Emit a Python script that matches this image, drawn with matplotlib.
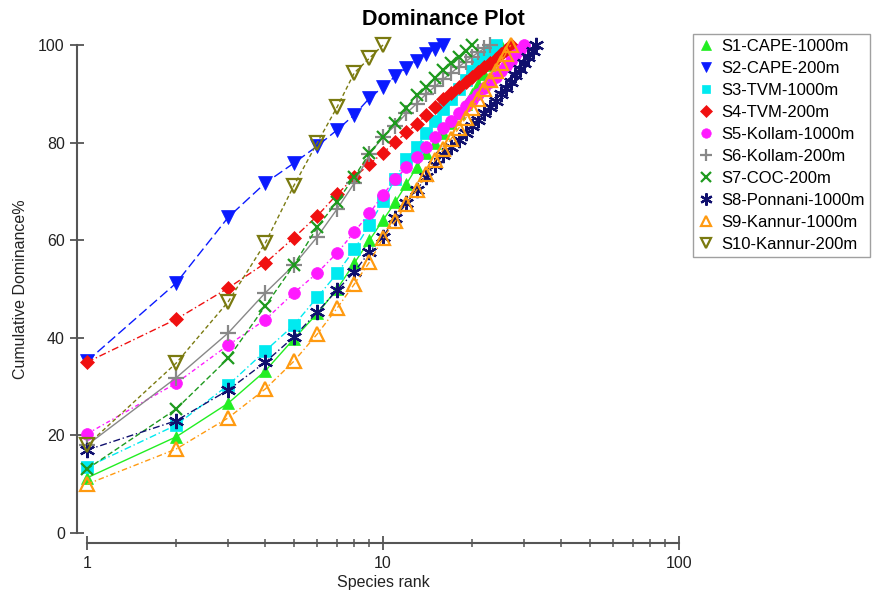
import matplotlib
matplotlib.use("Agg")
import matplotlib.pyplot as plt

plt.rcParams['font.family'] = ['Liberation Sans', 'DejaVu Sans']

# Cumulative dominance (%) for each sample, by species rank
s1 = [11.3, 19.7, 26.6, 33.2, 39.8, 45.0, 50.0, 55.3, 60.0, 64.1, 67.8, 71.5, 75.0, 77.9,
      80.0, 82.0, 84.0, 86.0, 88.0, 90.0, 92.0, 94.0, 96.0, 98.0, 100.0]
s2 = [35.2, 51.2, 64.7, 71.7, 75.8, 79.3, 82.6, 85.7, 89.1, 91.4, 93.6, 95.3, 96.7, 98.2,
      99.2, 100.0]
s3 = [13.5, 22.1, 30.3, 37.3, 42.6, 48.3, 53.2, 58.1, 63.1, 68.0, 72.5, 76.6, 79.1, 81.9,
      84.5, 86.8, 89.0, 91.0, 92.9, 94.6, 96.2, 97.6, 98.9, 100.0]
s4 = [35.0, 43.8, 50.2, 55.3, 60.5, 65.0, 69.4, 72.9, 75.6, 77.9, 80.1, 82.1, 83.8, 85.7,
      87.3, 89.0, 90.2, 91.3, 92.4, 93.4, 94.4, 95.4, 96.3, 97.2, 98.1, 99.0, 100.0]
s5 = [20.3, 30.7, 38.5, 43.7, 49.2, 53.3, 57.4, 61.7, 65.5, 69.3, 72.5, 74.9, 77.1, 79.1,
      81.2, 83.0, 84.5, 86.0, 87.4, 88.7, 90.0, 91.2, 92.4, 93.5, 94.6, 95.7, 96.8, 97.9,
      99.0, 100.0]
s6 = [18.0, 31.8, 41.0, 49.2, 54.9, 60.7, 66.4, 71.7, 77.6, 81.2, 83.5, 86.0, 88.0, 90.0,
      91.5, 93.0, 94.3, 95.5, 96.6, 97.6, 98.5, 99.3, 100.0]
s7 = [13.1, 25.4, 35.8, 46.5, 54.9, 62.7, 67.9, 73.0, 77.8, 81.2, 84.0, 87.0, 89.8, 91.3,
      93.2, 94.9, 96.3, 97.5, 98.8, 100.0]
s8 = [17.0, 23.0, 29.3, 35.0, 40.2, 45.3, 49.8, 53.5, 57.6, 60.7, 64.5, 67.6, 70.3, 73.0,
      75.4, 77.5, 79.0, 80.5, 81.9, 83.3, 84.7, 86.0, 87.3, 88.6, 89.9, 91.2, 92.5, 93.8,
      95.1, 96.4, 97.6, 98.8, 100.0]
s9 = [10.0, 17.2, 23.6, 29.5, 35.2, 40.8, 46.1, 51.0, 55.5, 60.4, 63.9, 67.4, 70.3, 73.6,
      76.4, 78.6, 80.8, 82.9, 85.0, 87.0, 89.0, 90.9, 92.8, 94.6, 96.4, 98.2, 100.0]
s10 = [18.0, 34.8, 47.4, 59.4, 71.2, 80.0, 87.3, 94.3, 97.3, 100.0]

labels = ['S1-CAPE-1000m', 'S2-CAPE-200m', 'S3-TVM-1000m', 'S4-TVM-200m',
          'S5-Kollam-1000m', 'S6-Kollam-200m', 'S7-COC-200m', 'S8-Ponnani-1000m',
          'S9-Kannur-1000m', 'S10-Kannur-200m']
series = [s1, s2, s3, s4, s5, s6, s7, s8, s9, s10]

colors = ['#22ee22', '#0a1aff', '#00eaf0', '#f01010', '#ff1aff', '#888888', '#1e9a1e',
          '#10106e', '#ff9a10', '#7a7a10']
markers = ['^', 'v', 's', 'D', 'o', '+', 'x', (6, 2, 0), '^', 'v']
filled = [True, True, True, True, True, True, True, True, False, False]
msizes = [8.5, 9.5, 8, 7.5, 8.5, 11, 8.5, 11, 9.5, 9.5]
lstyles = ['-', (0, (7, 3)), (0, (5, 2, 1, 2)), (0, (5, 2, 1, 2)), (0, (3, 2, 1, 2)),
           '-', (0, (4, 2)), (0, (5, 2, 1, 2)), (0, (4, 2, 1, 2)), (0, (3, 2))]

fig = plt.figure(figsize=(8.77, 5.94), dpi=100)
ax = fig.add_axes([87 / 877, 61 / 594, (679 - 87) / 877, (533 - 45) / 594])

for vals, lab, c, m, f, ms, ls in zip(series, labels, colors, markers, filled, msizes, lstyles):
    ranks = list(range(1, len(vals) + 1))
    ax.plot(ranks, vals, color=c, linestyle=ls, linewidth=1.0, marker=m,
            markersize=ms, markerfacecolor=c if f else 'none', markeredgecolor=c,
            markeredgewidth=1.6 if not f or m in ['+', 'x'] or isinstance(m, tuple) else 0.5,
            label=lab, clip_on=False)

ax.set_xscale('log')
ax.set_xlim(1, 100)
ax.set_ylim(0, 100)
ax.set_yticks([0, 20, 40, 60, 80, 100])
ax.set_xticks([1, 10, 100])
ax.set_xticklabels(['1', '10', '100'])

for side in ['top', 'right']:
    ax.spines[side].set_visible(False)
for side in ['left', 'bottom']:
    ax.spines[side].set_position(('outward', 7.5))
    ax.spines[side].set_color('#555555')
    ax.spines[side].set_linewidth(1.5)

ax.tick_params(axis='both', which='major', direction='inout', length=10, width=1.3,
               color='#555555', labelsize=11.5, labelcolor='#222222')
ax.tick_params(axis='x', which='minor', direction='inout', length=6, width=1.1,
               color='#555555')
ax.tick_params(axis='x', pad=4)

ax.set_xlabel('Species rank', fontsize=11.5, color='#222222', labelpad=3)
ax.set_ylabel('Cumulative Dominance%', fontsize=11.5, color='#222222', labelpad=7)

fig.text(0.505, 0.968, 'Dominance Plot', ha='center', va='center', fontsize=15.5,
         fontweight='bold')

leg = ax.legend(loc='upper left', bbox_to_anchor=(693 / 877, 1 - 34 / 594),
                bbox_transform=fig.transFigure, fontsize=12, frameon=True, fancybox=False,
                handlelength=1.0, handletextpad=0.4, borderpad=0.3, labelspacing=0.42,
                borderaxespad=0, markerscale=0.8)
leg.get_frame().set_edgecolor('#888888')
leg.get_frame().set_linewidth(1.0)
for h in leg.get_lines():
    h.set_linestyle('none')

fig.savefig('out.png', dpi=100)
